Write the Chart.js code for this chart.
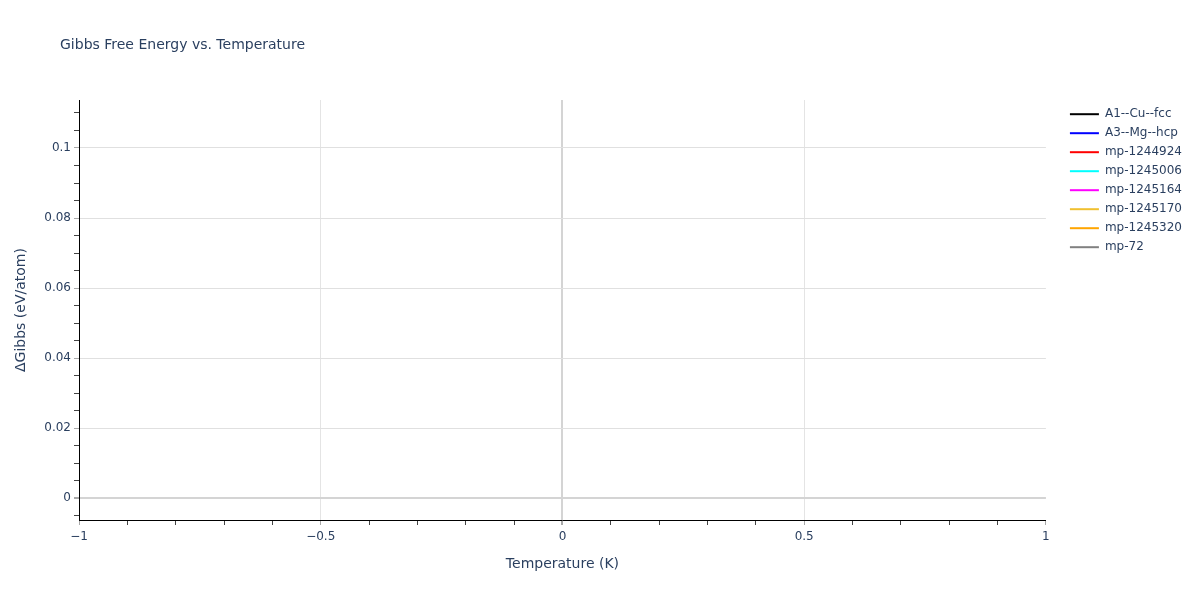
<!DOCTYPE html>
<html>
<head>
<meta charset="utf-8">
<script src="https://cdn.jsdelivr.net/npm/chart.js@4.4.1/dist/chart.umd.min.js"></script>
<style>
  html, body { margin: 0; padding: 0; background: #fff; }
  #wrap { width: 1200px; height: 600px; }
</style>
</head>
<body>
<div id="wrap"><canvas id="gibbsChart" width="1200" height="600"></canvas></div>
<script>
// series shown in the legend, in order
const seriesNames = ['A1--Cu--fcc', 'A3--Mg--hcp', 'mp-1244924', 'mp-1245006',
  'mp-1245164', 'mp-1245170', 'mp-1245320', 'mp-72'];
const seriesColors = ['#000000', '#0000ff', '#ff0000', '#00ffff',
  '#ff00ff', '#f0c030', '#ffa500', '#808080'];

// temperature grid (K) and Gibbs energy difference (eV/atom) per series
const temperatures = [0];
const deltaGibbs = [[0], [0], [0], [0], [0], [0], [0], [0]];

const xRange = [-1, 1];
const yRange = [-0.0062, 0.1137];

const textColor = '#2a3f5f';
const fontFamily = '"DejaVu Sans", Verdana, sans-serif';

function isMultiple(v, step) {
  const r = v / step;
  return Math.abs(r - Math.round(r)) < 1e-6;
}

function fmtMinus(v) {
  const s = String(Math.round(v * 1000) / 1000);
  return s.replace('-', '\u2212');
}

// plot title sits above the plot, left of the axis
const plotTitle = {
  id: 'plotTitle',
  afterDraw(chart) {
    const ctx = chart.ctx;
    ctx.save();
    ctx.font = '14px ' + fontFamily;
    ctx.fillStyle = textColor;
    ctx.textBaseline = 'middle';
    ctx.textAlign = 'left';
    ctx.fillText('Gibbs Free Energy vs. Temperature', 60, 45);
    ctx.restore();
  },
};

const datasets = seriesNames.map((name, i) => ({
  label: name,
  data: temperatures.map((t, j) => ({ x: t, y: deltaGibbs[i][j] })),
  borderColor: seriesColors[i],
  backgroundColor: seriesColors[i],
  borderWidth: 2,
  pointRadius: 0,
  pointStyle: 'line',
}));

const ctx = document.getElementById('gibbsChart').getContext('2d');

new Chart(ctx, {
  type: 'line',
  data: { datasets: datasets },
  options: {
    responsive: false,
    animation: false,
    layout: {
      padding: { top: 100, right: 8, bottom: 0, left: 0 },
    },
    plugins: {
      title: { display: false },
      tooltip: { enabled: false },
      legend: {
        display: true,
        position: 'right',
        align: 'start',
        // empty title only nudges the entries down a little
        title: { display: true, text: '', padding: 0, font: { size: 1 } },
        labels: {
          usePointStyle: true,
          pointStyle: 'line',
          pointStyleWidth: 29,
          padding: 7,
          color: textColor,
          font: { size: 12, family: fontFamily },
        },
      },
    },
    scales: {
      x: {
        type: 'linear',
        min: xRange[0],
        max: xRange[1],
        afterFit: (scale) => { scale.height = 80; },
        border: { display: true, color: '#000', width: 1 },
        grid: {
          drawTicks: true,
          tickLength: 5,
          color: (c) => {
            const v = c.tick ? c.tick.value : 0;
            if (Math.abs(v) > 0.999) return 'rgba(0,0,0,0)';
            if (Math.abs(v) < 1e-9) return '#d4d4d4';
            return isMultiple(v, 0.5) ? '#e4e4e4' : 'rgba(0,0,0,0)';
          },
          lineWidth: (c) => (c.tick && Math.abs(c.tick.value) < 1e-9 ? 2 : 1),
          tickColor: (c) => (c.tick && isMultiple(c.tick.value, 0.5) ? '#a8a8a8' : '#444'),
        },
        ticks: {
          stepSize: 0.1,
          autoSkip: false,
          maxRotation: 0,
          padding: 5,
          color: textColor,
          font: { size: 12, family: fontFamily },
          callback: (v) => (isMultiple(v, 0.5) ? fmtMinus(v) : ''),
        },
        title: {
          display: true,
          text: 'Temperature (K)',
          color: textColor,
          font: { size: 14, family: fontFamily },
          padding: { top: 4, bottom: 27 },
        },
      },
      y: {
        type: 'linear',
        min: yRange[0],
        max: yRange[1],
        afterFit: (scale) => { scale.width = 79; },
        border: { display: true, color: '#000', width: 1 },
        grid: {
          drawTicks: true,
          tickLength: 5,
          color: (c) => {
            const v = c.tick ? c.tick.value : 1;
            if (Math.abs(v) < 1e-9) return '#d4d4d4';
            return isMultiple(v, 0.02) ? '#e0e0e0' : 'rgba(0,0,0,0)';
          },
          lineWidth: (c) => (c.tick && Math.abs(c.tick.value) < 1e-9 ? 2 : 1),
          tickColor: (c) => (c.tick && isMultiple(c.tick.value, 0.02) ? '#a8a8a8' : '#444'),
        },
        ticks: {
          stepSize: 0.005,
          includeBounds: false,
          autoSkip: false,
          padding: 3,
          color: textColor,
          font: { size: 12, family: fontFamily },
          callback: (v) => (isMultiple(v, 0.02) ? fmtMinus(v) : ''),
        },
        title: {
          display: true,
          text: '\u0394Gibbs (eV/atom)',
          color: textColor,
          font: { size: 14, family: fontFamily },
          padding: { top: 13, bottom: 0 },
        },
      },
      // empty spacer between the plot and the legend
      gap: {
        type: 'linear',
        position: 'right',
        display: true,
        min: 0,
        max: 1,
        afterFit: (scale) => { scale.width = 17; },
        border: { display: false },
        grid: { display: false, drawTicks: false },
        ticks: { display: false },
      },
    },
  },
  plugins: [plotTitle],
});
</script>
</body>
</html>
